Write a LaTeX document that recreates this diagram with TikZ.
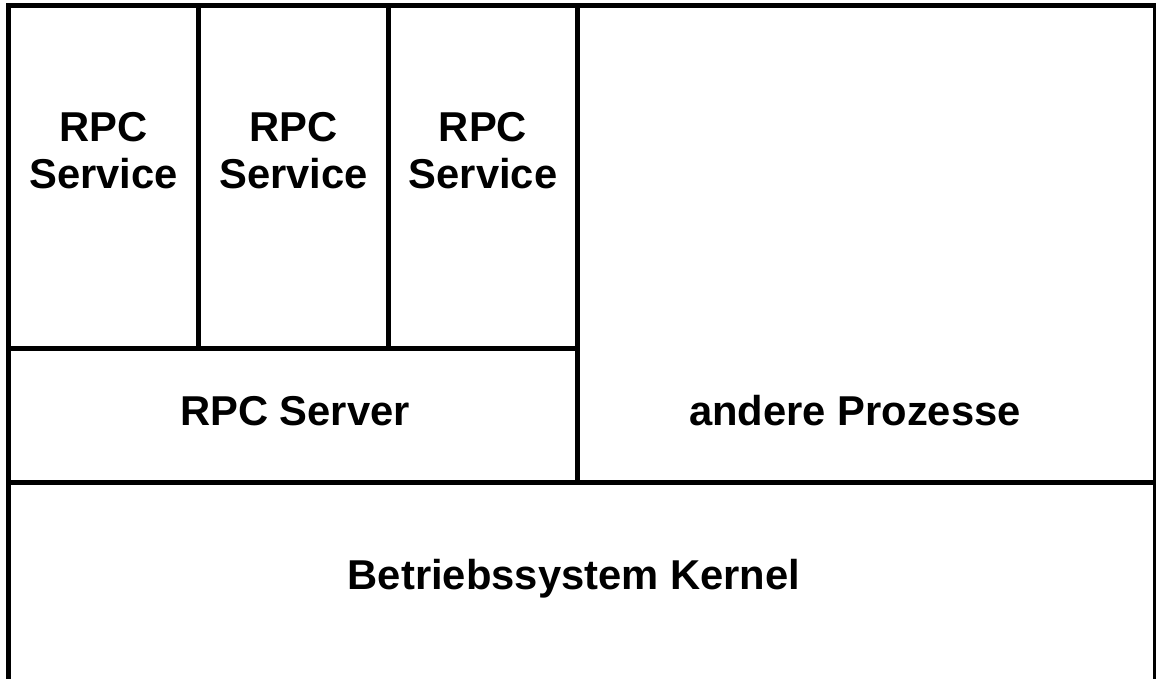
\documentclass[tikz,border=0pt]{standalone}
\usepackage{fontspec}
\setmainfont{Liberation Sans}
\begin{document}
\begin{tikzpicture}[x=0.75pt,y=-0.75pt,
  frame/.style={line width=3.75pt,line cap=rect},
  lbl/.style={font=\bfseries\fontsize{31.3}{36}\selectfont,anchor=base,inner sep=0pt,align=center}]
\clip (0,0) rectangle (1156,678);
\fill[white] (0,0) rectangle (1156,678);
% frame
\draw[frame] (8.5,700) -- (8.5,5) -- (1155,5) -- (1155,700);
\draw[frame] (8.5,482.5) -- (1155,482.5);
\draw[frame] (577.5,5) -- (577.5,482.5);
\draw[frame] (8.5,348.5) -- (577.5,348.5);
\draw[frame] (198.5,5) -- (198.5,348.5);
\draw[frame] (388.5,5) -- (388.5,348.5);
% labels
\node[lbl] (s1a) at (103.5,141) {RPC};
\node[lbl] (s1b) at (103.5,188.5) {Service};
\node[lbl] (s2a) at (293.5,141) {RPC};
\node[lbl] (s2b) at (293.5,188.5) {Service};
\node[lbl] (s3a) at (483,141) {RPC};
\node[lbl] (s3b) at (483,188.5) {Service};
\node[lbl] (srv) at (295,425) {RPC Server};
\node[lbl] (oth) at (855,425) {andere Prozesse};
\node[lbl] (krn) at (574,589) {Betriebssystem Kernel};
\end{tikzpicture}
\end{document}
